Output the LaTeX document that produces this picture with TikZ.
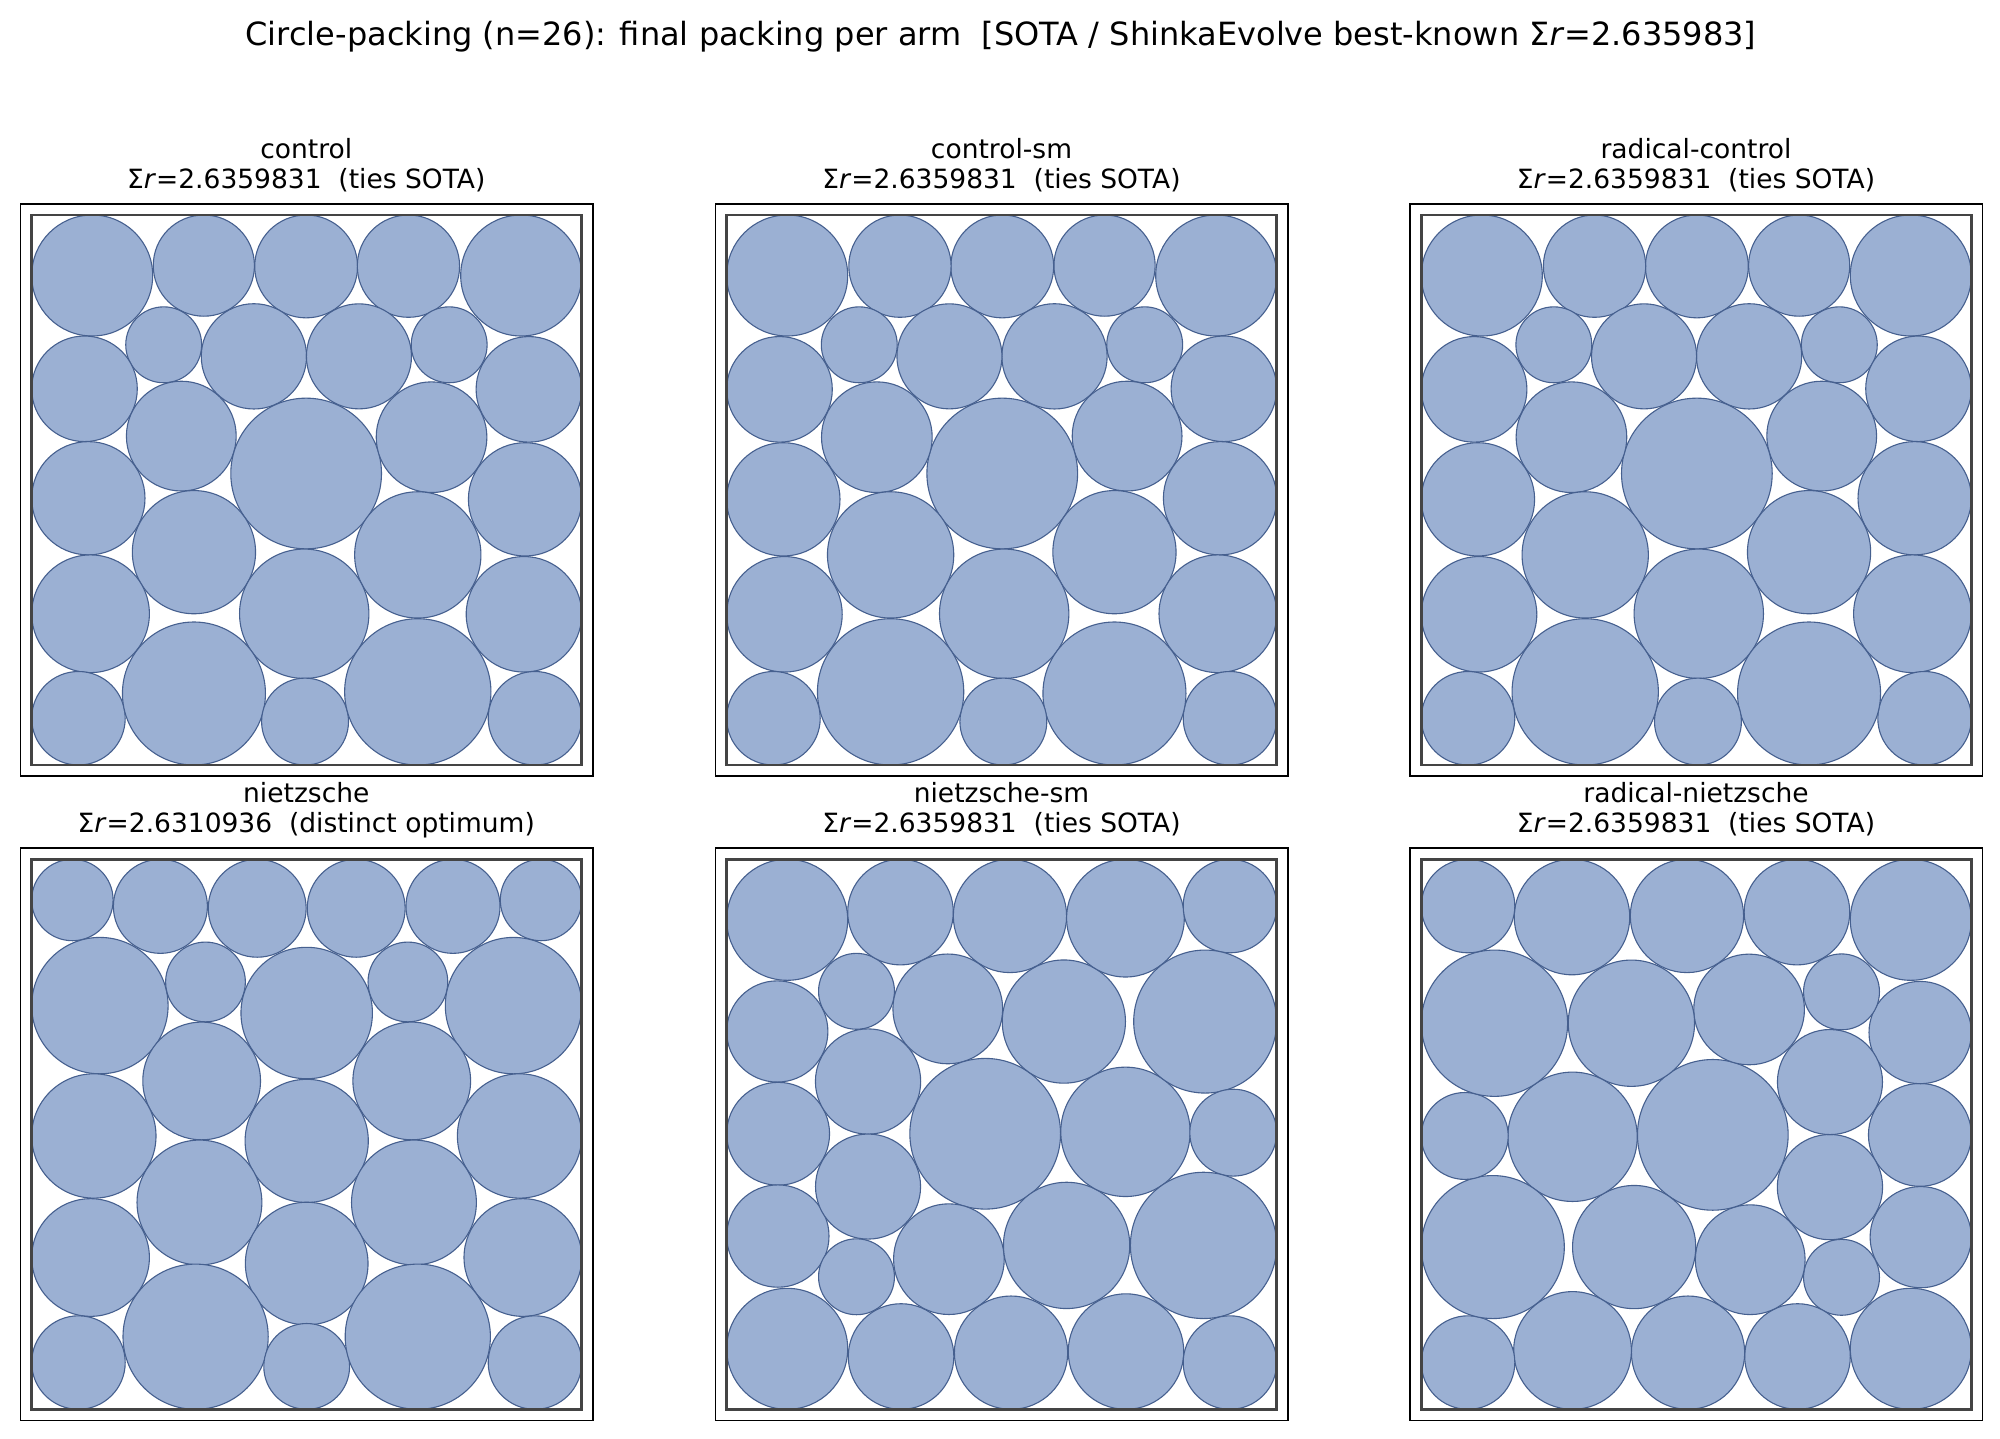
\documentclass[tikz,border=0pt]{standalone}
\usepackage{fontspec}
\setmainfont{DejaVu Sans}[ItalicFont={DejaVu Sans Oblique}]
\definecolor{cfill}{HTML}{9BB0D3}
\definecolor{cedge}{HTML}{46608F}
\definecolor{sqgray}{HTML}{444444}
% u/v/r in the unit square (control packing)
\newcommand\PackA{0.11/0.89/0.11, 0.313/0.908/0.092, 0.499/0.9065/0.0935, 0.685/0.907/0.093, 0.89/0.89/0.11,
 0.240/0.764/0.069, 0.404/0.743/0.0957, 0.595/0.743/0.0955, 0.759/0.764/0.069,
 0.096/0.684/0.096, 0.904/0.683/0.096, 0.272/0.598/0.0998, 0.499/0.530/0.137, 0.727/0.596/0.1006,
 0.103/0.485/0.103, 0.897/0.483/0.103, 0.295/0.387/0.112, 0.702/0.382/0.1148, 0.4955/0.275/0.1176,
 0.107/0.275/0.107, 0.895/0.274/0.105, 0.085/0.085/0.085, 0.295/0.13/0.13, 0.497/0.079/0.079,
 0.702/0.133/0.133, 0.915/0.085/0.085}
% nietzsche packing
\newcommand\PackB{0.074/0.926/0.074, 0.234/0.9145/0.0855, 0.410/0.911/0.089, 0.590/0.911/0.089, 0.766/0.9145/0.0855, 0.926/0.926/0.074,
 0.124/0.734/0.124, 0.316/0.777/0.0725, 0.500/0.7205/0.1195, 0.684/0.777/0.0725, 0.876/0.734/0.124,
 0.309/0.597/0.107, 0.691/0.597/0.107, 0.113/0.497/0.113, 0.500/0.488/0.112, 0.887/0.497/0.113,
 0.305/0.376/0.1135, 0.695/0.376/0.1135, 0.107/0.276/0.107, 0.893/0.276/0.107, 0.500/0.265/0.1115,
 0.085/0.085/0.085, 0.298/0.132/0.132, 0.500/0.078/0.078, 0.702/0.132/0.132, 0.915/0.085/0.085}
\newcommand\DrawPacking[1]{%
  \foreach \ux/\uy/\ur in #1 {\draw[circ] (\ux,\uy) circle[radius=\ur*550pt];}
  \draw[framein] (0,0) rectangle (1,1);
  \draw[frameout] (-0.0205,-0.0205) rectangle (1.0205,1.0205);
}
\begin{document}
\begin{tikzpicture}[x=1pt,y=-1pt,
  circ/.style={fill=cfill, draw=cedge, line width=1.1pt},
  frameout/.style={draw=black, line width=1.6pt},
  framein/.style={draw=sqgray, line width=2.8pt},
  ttl/.style={anchor=base, inner sep=0pt, font=\fontsize{26.5}{30}\selectfont},
  suptitle/.style={anchor=base, inner sep=0pt, font=\fontsize{32}{36}\selectfont}]
\useasboundingbox (0,0) rectangle (2000,1438);
\fill[white] (0,0) rectangle (2000,1438);
\node[suptitle] (sup) at (1001,45) {Circle-packing (n=26): final packing per arm\ \ [SOTA / ShinkaEvolve best-known Σ\textit{r}=2.635983]};
% panels
\begin{scope}[shift={(31.7,765)}, x={(550pt,0pt)}, y={(0pt,550pt)}]
  \DrawPacking{\PackA}
\end{scope}
\begin{scope}[shift={(1276.7,765)}, x={(-550pt,0pt)}, y={(0pt,550pt)}]
  \DrawPacking{\PackA}
\end{scope}
\begin{scope}[shift={(1971.3,765)}, x={(-550pt,0pt)}, y={(0pt,550pt)}]
  \DrawPacking{\PackA}
\end{scope}
\begin{scope}[shift={(31.7,1409.3)}, x={(550pt,0pt)}, y={(0pt,550pt)}]
  \DrawPacking{\PackB}
\end{scope}
\begin{scope}[shift={(1276.7,859.3)}, x={(0pt,-550pt)}, y={(-550pt,0pt)}]
  \DrawPacking{\PackA}
\end{scope}
\begin{scope}[shift={(1421.3,1409.3)}, x={(0pt,550pt)}, y={(550pt,0pt)}]
  \DrawPacking{\PackA}
\end{scope}
% titles
\node[ttl] (t1a) at (306.3,158.5) {control};
\node[ttl] (t1b) at (306.3,188.3) {Σ\textit{r}=2.6359831\ \ (ties SOTA)};
\node[ttl] (t2a) at (1001.5,158.5) {control-sm};
\node[ttl] (t2b) at (1001.5,188.3) {Σ\textit{r}=2.6359831\ \ (ties SOTA)};
\node[ttl] (t3a) at (1696,158.5) {radical-control};
\node[ttl] (t3b) at (1696,188.3) {Σ\textit{r}=2.6359831\ \ (ties SOTA)};
\node[ttl] (t4a) at (306.3,802.8) {nietzsche};
\node[ttl] (t4b) at (306.3,832.3) {Σ\textit{r}=2.6310936\ \ (distinct optimum)};
\node[ttl] (t5a) at (1001.5,802.8) {nietzsche-sm};
\node[ttl] (t5b) at (1001.5,832.3) {Σ\textit{r}=2.6359831\ \ (ties SOTA)};
\node[ttl] (t6a) at (1696,802.8) {radical-nietzsche};
\node[ttl] (t6b) at (1696,832.3) {Σ\textit{r}=2.6359831\ \ (ties SOTA)};
\end{tikzpicture}
\end{document}
